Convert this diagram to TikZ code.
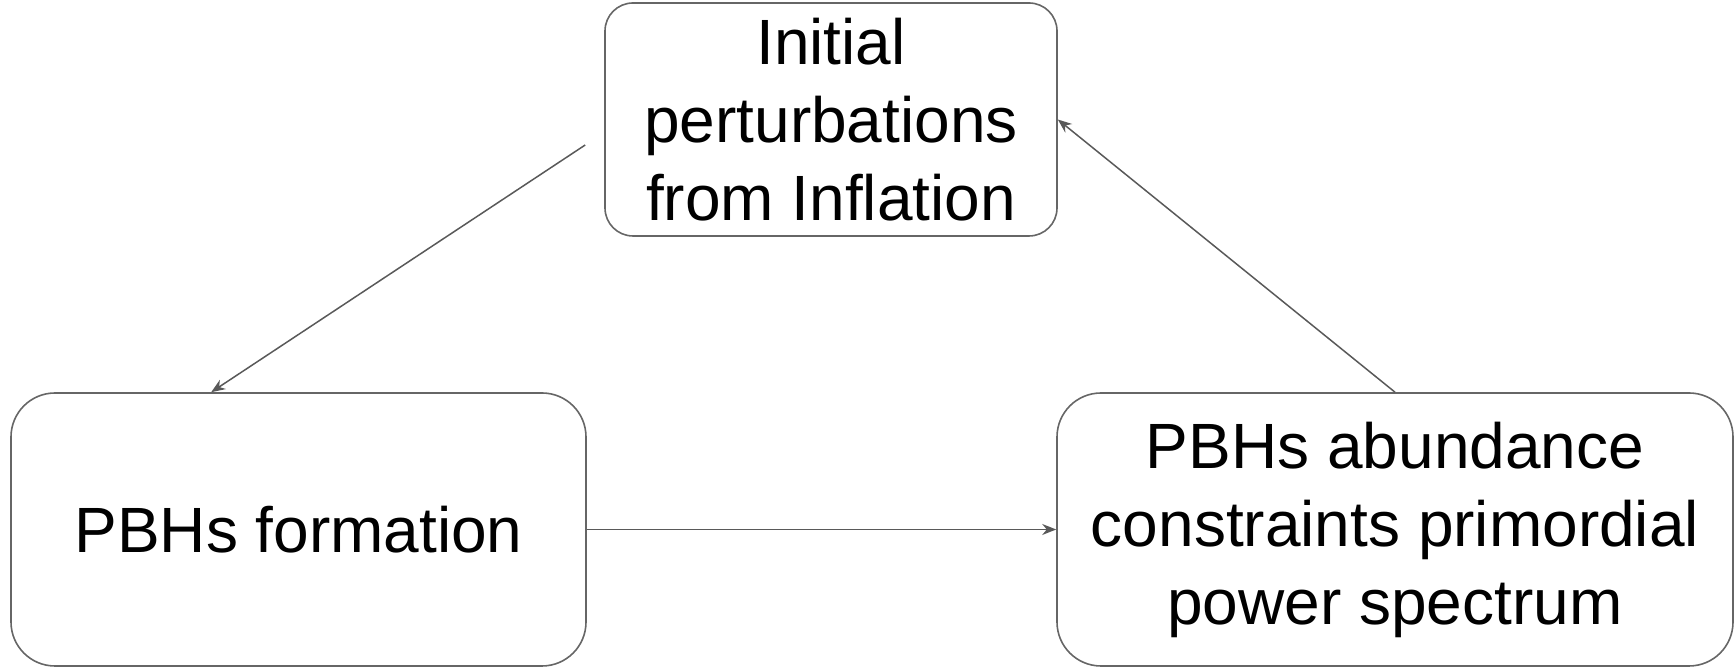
\documentclass[tikz,border=0pt]{standalone}
\usepackage{fontspec}
\setmainfont{Liberation Sans}
\usetikzlibrary{arrows.meta,calc}
\begin{document}
\begin{tikzpicture}[x=1pt, y=1pt, >={Stealth[length=7pt,width=5.5pt]},
  box/.style={draw=black!60, line width=0.8pt, rounded corners=#1, align=center,
    inner sep=0pt, font=\fontsize{32}{39}\selectfont},
  box/.default=22pt,
  link/.style={->, draw=black!65, line width=0.75pt}]
  \useasboundingbox (0,0) rectangle (867.5,333.5);
  \node[box=14pt, minimum width=226pt, minimum height=116.5pt] (init) at (415.5,273.75)
    {Initial\\perturbations\\from Inflation};
  \node[box, minimum width=287.5pt, minimum height=136.5pt] (form) at (149.25,68.75)
    {PBHs formation};
  \node[box, minimum width=338pt, minimum height=136.5pt] (abund) at (697.5,68.75)
    {PBHs abundance\\constraints primordial\\power spectrum};
  \coordinate (start) at ($(init.west)+(-9.5,-12.75)$);
  \draw[link] (start) -- ($(form.north west)+(100.5,0)$);
  \draw[link] (form.east) -- (abund.west);
  \draw[link] (abund.north) -- (init.east);
\end{tikzpicture}
\end{document}
